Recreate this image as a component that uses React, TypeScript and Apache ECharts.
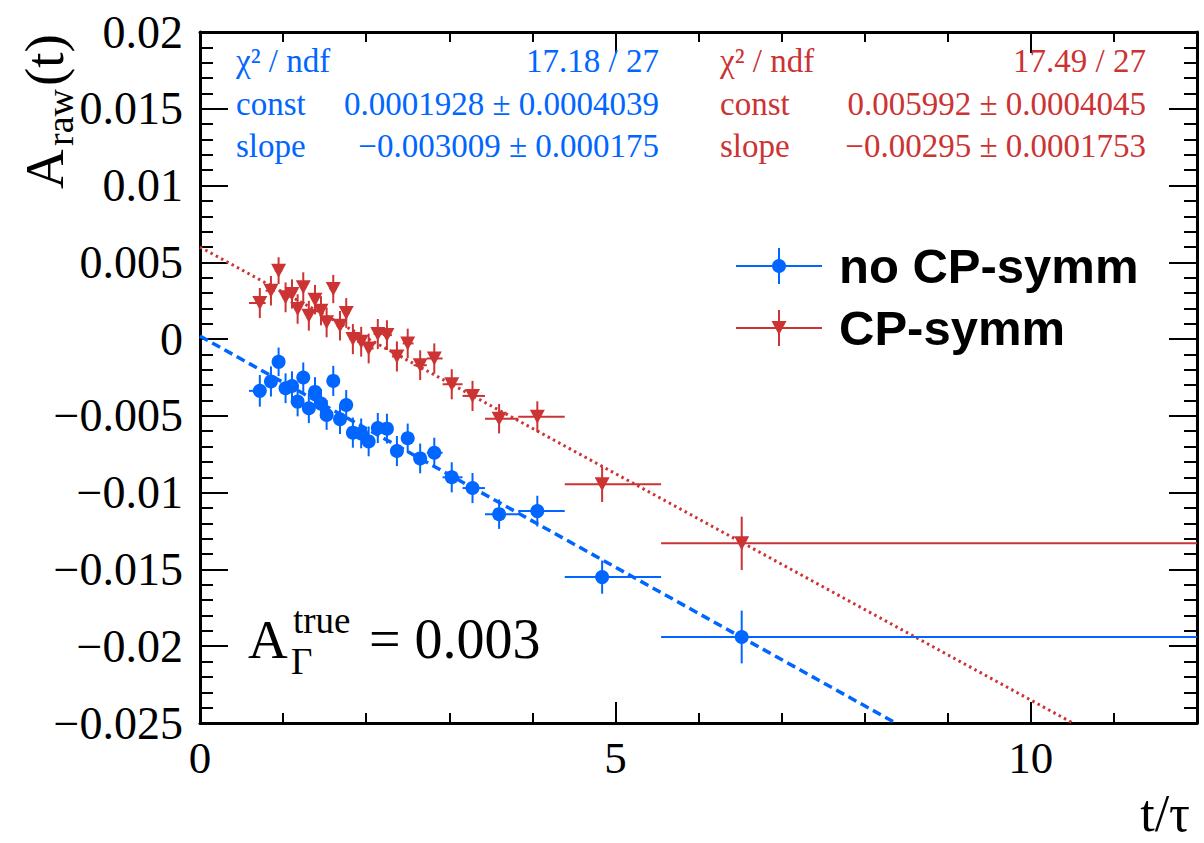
import React, { useEffect, useRef } from "react";
import * as echarts from "echarts";

// ---------------- data ----------------
const tCenters = [0.72, 0.854, 0.946, 1.03, 1.107, 1.175, 1.243, 1.31, 1.384, 1.456, 1.524, 1.604, 1.685, 1.76, 1.84, 1.94, 2.03, 2.14, 2.25, 2.37, 2.5, 2.65, 2.82, 3.03, 3.28, 3.6, 4.06, 4.84, 6.52];
const binLow = [0.59, 0.79, 0.9, 0.99, 1.07, 1.14, 1.21, 1.28, 1.35, 1.42, 1.49, 1.56, 1.645, 1.72, 1.8, 1.89, 1.99, 2.09, 2.2, 2.31, 2.44, 2.57, 2.73, 2.92, 3.16, 3.43, 3.83, 4.39, 5.55];
const binHigh = [0.79, 0.9, 0.99, 1.07, 1.14, 1.21, 1.28, 1.35, 1.42, 1.49, 1.56, 1.645, 1.72, 1.8, 1.89, 1.99, 2.09, 2.2, 2.31, 2.44, 2.57, 2.73, 2.92, 3.16, 3.43, 3.83, 4.39, 5.55, 12];

const noCPValues = [-0.00337, -0.00276, -0.00148, -0.0032, -0.00305, -0.00407, -0.0025, -0.0045, -0.00344, -0.0042, -0.00494, -0.00272, -0.00522, -0.00429, -0.00609, -0.00614, -0.00666, -0.00579, -0.00583, -0.00729, -0.00646, -0.00777, -0.0074, -0.009, -0.0097, -0.0114, -0.0112, -0.0155, -0.0194];
const noCPErrors = [0.00103, 0.00098, 0.00093, 0.00097, 0.00095, 0.00096, 0.00098, 0.00097, 0.00096, 0.00095, 0.00097, 0.00098, 0.00096, 0.00097, 0.00098, 0.00097, 0.00097, 0.00098, 0.00097, 0.00098, 0.00096, 0.00097, 0.00098, 0.00098, 0.00098, 0.00096, 0.001, 0.00108, 0.00172];

const cpValues = [0.00235, 0.00315, 0.00446, 0.00272, 0.00294, 0.00196, 0.00337, 0.00152, 0.00257, 0.00185, 0.00109, 0.00326, 0.00087, 0.0017, 0.0, -0.00017, -0.00061, 0.00033, 0.00026, -0.00113, -0.00028, -0.0017, -0.00126, -0.00294, -0.0037, -0.00518, -0.00505, -0.00946, -0.0133];
const cpErrors = [0.00098, 0.00096, 0.00087, 0.00097, 0.00095, 0.00096, 0.00098, 0.00097, 0.00096, 0.00095, 0.00097, 0.00092, 0.00096, 0.00097, 0.00098, 0.00097, 0.00097, 0.00098, 0.00097, 0.00098, 0.00096, 0.00097, 0.00098, 0.00098, 0.00098, 0.00096, 0.001, 0.00115, 0.00174];

const noCPConst = 0.0001928;
const noCPSlope = -0.003009;
const cpConst = 0.005992;
const cpSlope = -0.00295;

const noCPStats = [
  ["χ² / ndf", "17.18 / 27"],
  ["const", "0.0001928 ± 0.0004039"],
  ["slope", "−0.003009 ± 0.000175"],
];
const cpStats = [
  ["χ² / ndf", "17.49 / 27"],
  ["const", "0.005992 ± 0.0004045"],
  ["slope", "−0.00295 ± 0.0001753"],
];

const xTickValues = [0, 5, 10];
const xTickLabels = ["0", "5", "10"];
const yTickValues = [-0.025, -0.02, -0.015, -0.01, -0.005, 0, 0.005, 0.01, 0.015, 0.02];
const yTickLabels = ["−0.025", "−0.02", "−0.015", "−0.01", "−0.005", "0", "0.005", "0.01", "0.015", "0.02"];

const legendNames = ["no CP-symm", "CP-symm"];

// ---------------- styling ----------------
const BLUE = "#0066ff";
const RED = "#cc3333";
const SERIF = "Liberation Serif";
const X_MIN = 0, X_MAX = 12, Y_MIN = -0.025, Y_MAX = 0.02;

function fitLine(c: number, s: number) {
  const xEnd = Math.min(X_MAX, (Y_MIN - c) / s);
  return [[X_MIN, c + s * X_MIN], [xEnd, c + s * xEnd]];
}

function errData(vals: number[], errs: number[]) {
  return tCenters.map((t, i) => [t, vals[i], binLow[i], binHigh[i], errs[i]]);
}

function errSeries(vals: number[], errs: number[], color: string) {
  return {
    type: "custom",
    data: errData(vals, errs),
    encode: { x: 0, y: 1 },
    z: 3,
    renderItem: (params: any, api: any) => {
      const x = api.value(0), y = api.value(1), lo = api.value(2), hi = api.value(3), e = api.value(4);
      const l = api.coord([lo, y]);
      const h = api.coord([hi, y]);
      const t = api.coord([x, y + e]);
      const b = api.coord([x, y - e]);
      return {
        type: "group",
        children: [
          { type: "line", shape: { x1: l[0], y1: l[1], x2: h[0], y2: h[1] }, style: { stroke: color, lineWidth: 2 } },
          { type: "line", shape: { x1: t[0], y1: t[1], x2: b[0], y2: b[1] }, style: { stroke: color, lineWidth: 2 } },
        ],
      };
    },
  };
}

function txt(x: number, y: number, text: string, size: number, color: string, align = "left", weight = "normal", family = SERIF) {
  return {
    type: "text",
    x,
    y,
    z: 20,
    style: {
      text,
      fill: color,
      fontSize: size,
      fontFamily: family,
      fontWeight: weight,
      align,
      textAlign: align,
      verticalAlign: "middle",
      textVerticalAlign: "middle",
    },
  };
}

const axisLineStyle = { color: "#000", width: 3 };
const tickStyle = { color: "#000", width: 2 };

function xAxisDef(position: string, major: boolean) {
  return {
    type: "value",
    min: X_MIN,
    max: X_MAX,
    interval: major ? 5 : 1,
    position,
    axisLine: { show: major, onZero: false, lineStyle: axisLineStyle },
    axisTick: { show: true, inside: true, length: major ? 21 : 10, lineStyle: tickStyle },
    axisLabel: {
      show: major && position === "bottom",
      fontSize: 45,
      fontFamily: SERIF,
      color: "#000",
      margin: 12,
      formatter: (v: number) => {
        const i = xTickValues.findIndex((t) => Math.abs(t - v) < 1e-9);
        return i >= 0 ? xTickLabels[i] : "";
      },
    },
    splitLine: { show: false },
  };
}

function yAxisDef(position: string) {
  return {
    type: "value",
    min: Y_MIN,
    max: Y_MAX,
    interval: 0.005,
    position,
    axisLine: { show: true, onZero: false, lineStyle: axisLineStyle },
    axisTick: { show: true, inside: true, length: 28, lineStyle: tickStyle },
    minorTick: { show: true, splitNumber: 5, length: 13, lineStyle: tickStyle },
    axisLabel: {
      show: position === "left",
      fontSize: 46,
      fontFamily: SERIF,
      color: "#000",
      margin: 17,
      formatter: (v: number) => {
        const i = yTickValues.findIndex((t) => Math.abs(t - v) < 1e-9);
        return i >= 0 ? yTickLabels[i] : "";
      },
    },
    splitLine: { show: false },
    minorSplitLine: { show: false },
  };
}

export default function App() {
  const ref = useRef<HTMLDivElement>(null);
  useEffect(() => {
    if (!ref.current) return;
    const chart = echarts.init(ref.current, undefined, { renderer: "svg" });

    const graphics: any[] = [];
    // stats boxes
    const rowsY = [61, 104, 146];
    noCPStats.forEach((r, i) => {
      graphics.push(txt(236, rowsY[i], r[0], 33, BLUE, "left"));
      graphics.push(txt(659, rowsY[i], r[1], 33, BLUE, "right"));
    });
    cpStats.forEach((r, i) => {
      graphics.push(txt(720, rowsY[i], r[0], 33, RED, "left"));
      graphics.push(txt(1146, rowsY[i], r[1], 33, RED, "right"));
    });
    // A_Gamma^true = 0.003
    graphics.push(txt(248, 639, "A", 55, "#000"));
    graphics.push(txt(293, 620, "true", 37, "#000"));
    graphics.push(txt(291, 661, "Γ", 37, "#000"));
    graphics.push(txt(369, 639, "= 0.003", 56, "#000"));
    // x title
    graphics.push(txt(1190, 813, "t/τ", 52, "#000", "right"));
    // y title (rotated)
    graphics.push({
      type: "group",
      x: 63,
      y: 189,
      rotation: Math.PI / 2,
      children: [
        txt(0, -19, "A", 55, "#000"),
        txt(43, -3, "raw", 38, "#000"),
        txt(103, -19, "(t)", 55, "#000"),
      ],
    });
    // legend
    const legendRows = [
      { y: 266, color: BLUE, name: legendNames[0], tri: false },
      { y: 328, color: RED, name: legendNames[1], tri: true },
    ];
    legendRows.forEach((r) => {
      graphics.push({ type: "line", z: 20, shape: { x1: 736, y1: r.y, x2: 822, y2: r.y }, style: { stroke: r.color, lineWidth: 2 } });
      graphics.push({ type: "line", z: 20, shape: { x1: 779, y1: r.y - 18, x2: 779, y2: r.y + 18 }, style: { stroke: r.color, lineWidth: 2 } });
      if (r.tri) {
        graphics.push({ type: "polygon", z: 21, shape: { points: [[771.5, r.y - 7], [786.5, r.y - 7], [779, r.y + 7]] }, style: { fill: r.color } });
      } else {
        graphics.push({ type: "circle", z: 21, shape: { cx: 779, cy: r.y, r: 7 }, style: { fill: r.color } });
      }
      graphics.push(txt(839, r.y, r.name, 49, "#000", "left", "bold", "Liberation Sans"));
    });

    chart.setOption({
      animation: false,
      backgroundColor: "#fff",
      grid: { left: 200, top: 32, width: 997, height: 691, containLabel: false },
      xAxis: [xAxisDef("bottom", true), xAxisDef("bottom", false), xAxisDef("top", true), xAxisDef("top", false)],
      yAxis: [yAxisDef("left"), yAxisDef("right")],
      series: [
        {
          type: "line",
          data: fitLine(noCPConst, noCPSlope),
          showSymbol: false,
          symbol: "none",
          lineStyle: { color: BLUE, width: 3.5, type: [9, 5] },
          z: 2,
        },
        {
          type: "line",
          data: fitLine(cpConst, cpSlope),
          showSymbol: false,
          symbol: "none",
          lineStyle: { color: RED, width: 3, type: [2.5, 3.5] },
          z: 2,
        },
        errSeries(cpValues, cpErrors, RED),
        {
          type: "scatter",
          data: tCenters.map((t, i) => [t, cpValues[i]]),
          symbol: "triangle",
          symbolRotate: 180,
          symbolSize: [15, 14],
          itemStyle: { color: RED, opacity: 1 },
          z: 4,
        },
        errSeries(noCPValues, noCPErrors, BLUE),
        {
          type: "scatter",
          data: tCenters.map((t, i) => [t, noCPValues[i]]),
          symbol: "circle",
          symbolSize: 14,
          itemStyle: { color: BLUE, opacity: 1 },
          z: 4,
        },
      ],
      graphic: graphics,
    });
    return () => chart.dispose();
  }, []);
  return (
    <div
      ref={ref}
      style={{ position: "absolute", left: 0, top: 0, width: 1204, height: 843, background: "#fff" }}
    />
  );
}
